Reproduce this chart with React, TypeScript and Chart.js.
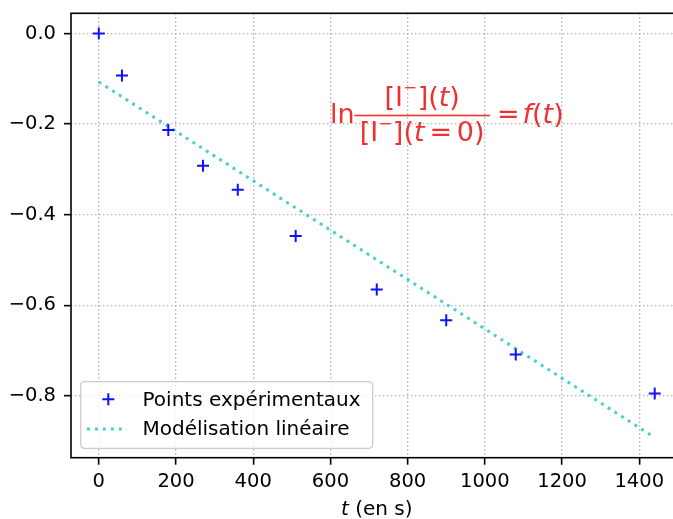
import React, { useEffect, useRef } from 'react';
import { Chart, registerables } from 'chart.js';

Chart.register(...registerables);

// ---- data ----
const times = [0, 60, 180, 270, 360, 510, 720, 900, 1080, 1440];
const lnRatio = [0, -0.093, -0.213, -0.292, -0.345, -0.447, -0.565, -0.633, -0.709, -0.795];
const modelTimes = [0, 1440];
const modelValues = [-0.107, -0.892];
const xTicks = [0, 200, 400, 600, 800, 1000, 1200, 1400];
const yTicks = [-0.8, -0.6, -0.4, -0.2, 0.0];
const xRange = [-72, 1512];
const yRange = [-0.9366, 0.0446];
const seriesLabels = ['Points expérimentaux', 'Modélisation linéaire'];
const xTitleItalic = 't';
const xTitleRest = ' (en s)';

const FONT = '"DejaVu Sans", sans-serif';
const POINT_COLOR = '#1010ff';
const LINE_COLOR = '#48d1cc';
const RED = '#f03030';
const LINE_DASH = [3, 4.95];
const TARGET = { left: 71, top: 13.3, right: 682.5, bottom: 457.7 };

type Run = { t: string; it?: boolean; s?: number; dy?: number; gap?: number };

function fontFor(r: Run, F: number) {
  return `${r.it ? 'italic ' : ''}${(r.s ?? 1) * F}px ${FONT}`;
}
function runsWidth(ctx: CanvasRenderingContext2D, runs: Run[], F: number) {
  let w = 0;
  for (const r of runs) {
    ctx.font = fontFor(r, F);
    w += (r.gap ?? 0) * F + ctx.measureText(r.t).width;
  }
  return w;
}
function drawRuns(ctx: CanvasRenderingContext2D, runs: Run[], x: number, y: number, F: number) {
  for (const r of runs) {
    ctx.font = fontFor(r, F);
    x += (r.gap ?? 0) * F;
    ctx.fillText(r.t, x, y + (r.dy ?? 0) * F);
    x += ctx.measureText(r.t).width;
  }
  return x;
}

const decorPlugin = {
  id: 'decor',
  afterDraw(chart: any) {
    const ctx: CanvasRenderingContext2D = chart.ctx;
    const a = chart.chartArea;
    ctx.save();
    // spines
    ctx.lineWidth = 1.6;
    ctx.strokeStyle = '#000';
    ctx.strokeRect(a.left, a.top, a.right - a.left, a.bottom - a.top);

    // formula annotation
    const F = 27;
    ctx.fillStyle = RED;
    ctx.textBaseline = 'alphabetic';
    ctx.textAlign = 'left';
    const sup: Run = { t: '−', s: 0.6, dy: -0.45, gap: 0.02 };
    const num: Run[] = [{ t: '[' }, { t: 'I' }, sup, { t: ']', gap: 0.02 }, { t: '(' }, { t: 't', it: true }, { t: ')' }];
    const den: Run[] = [{ t: '[' }, { t: 'I' }, sup, { t: ']', gap: 0.02 }, { t: '(' }, { t: 't', it: true }, { t: '=', gap: 0.18 }, { t: '0', gap: 0.18 }, { t: ')' }];
    const base = 123;
    drawRuns(ctx, [{ t: 'ln' }], 330, base, F);
    const barL = 354.3, barR = 490, barY = 115.5;
    ctx.fillRect(barL, barY - 0.8, barR - barL, 1.6);
    const cx = (barL + barR) / 2;
    const nw = runsWidth(ctx, num, F);
    drawRuns(ctx, num, cx - nw / 2, 105.5, F);
    const dw = runsWidth(ctx, den, F);
    drawRuns(ctx, den, cx - dw / 2, 141, F);
    drawRuns(ctx, [{ t: '=' }], 497, base, F);
    drawRuns(ctx, [{ t: 'f', it: true }, { t: '(' }, { t: 't', it: true }, { t: ')' }], 522.5, base, F);

    // x axis title
    ctx.fillStyle = '#000';
    const tf = 20;
    const tRuns: Run[] = [{ t: xTitleItalic, it: true }, { t: xTitleRest }];
    const tw = runsWidth(ctx, tRuns, tf);
    drawRuns(ctx, tRuns, (a.left + a.right) / 2 - tw / 2, 515, tf);

    // legend
    const lx = 80.7, ly = 381.7, lw = 292, lh = 66.6, rad = 4;
    ctx.beginPath();
    ctx.moveTo(lx + rad, ly);
    ctx.lineTo(lx + lw - rad, ly);
    ctx.quadraticCurveTo(lx + lw, ly, lx + lw, ly + rad);
    ctx.lineTo(lx + lw, ly + lh - rad);
    ctx.quadraticCurveTo(lx + lw, ly + lh, lx + lw - rad, ly + lh);
    ctx.lineTo(lx + rad, ly + lh);
    ctx.quadraticCurveTo(lx, ly + lh, lx, ly + lh - rad);
    ctx.lineTo(lx, ly + rad);
    ctx.quadraticCurveTo(lx, ly, lx + rad, ly);
    ctx.closePath();
    ctx.fillStyle = 'rgba(255,255,255,0.8)';
    ctx.fill();
    ctx.strokeStyle = '#cccccc';
    ctx.lineWidth = 1.3;
    ctx.stroke();

    const ds = chart.data.datasets;
    ctx.strokeStyle = ds[0].pointBorderColor;
    ctx.lineWidth = 2;
    ctx.setLineDash([]);
    ctx.beginPath();
    ctx.moveTo(108.3 - 6, 399.3);
    ctx.lineTo(108.3 + 6, 399.3);
    ctx.moveTo(108.3, 399.3 - 6);
    ctx.lineTo(108.3, 399.3 + 6);
    ctx.stroke();
    ctx.strokeStyle = ds[1].borderColor;
    ctx.lineWidth = 3;
    ctx.setLineDash(LINE_DASH);
    ctx.beginPath();
    ctx.moveTo(87, 429);
    ctx.lineTo(127, 429);
    ctx.stroke();
    ctx.setLineDash([]);
    ctx.fillStyle = '#000';
    ctx.font = `20px ${FONT}`;
    ctx.fillText(ds[0].label, 142.5, 405.5);
    ctx.fillText(ds[1].label, 142.5, 434.5);
    ctx.restore();
  },
};

function fmtY(v: number) {
  const s = Math.abs(v).toFixed(1);
  return v < 0 ? '−' + s : s;
}

export default function App() {
  const ref = useRef<HTMLCanvasElement>(null);
  useEffect(() => {
    document.body.style.margin = '0';
    const canvas = ref.current!;
    const padding = { top: 13.3, right: 17.5, left: 0, bottom: 0 };
    const gridOpts = {
      color: '#b0b0b0',
      lineWidth: 1.3,
      tickColor: '#000',
      tickWidth: 1.6,
      tickLength: 7,
      tickBorderDash: [],
    };
    const options: any = {
      animation: false,
      responsive: false,
      devicePixelRatio: 1,
      layout: { padding },
      plugins: { legend: { display: false }, tooltip: { enabled: false } },
      events: [],
      scales: {
        x: {
          type: 'linear',
          min: xRange[0],
          max: xRange[1],
          afterBuildTicks: (s: any) => {
            s.ticks = xTicks.map((v) => ({ value: v }));
          },
          afterFit: (s: any) => {
            s.height = 61.3;
            s.paddingLeft = 0;
            s.paddingRight = 0;
          },
          ticks: {
            font: { family: FONT, size: 19.5 },
            color: '#000',
            padding: 6,
            maxRotation: 0,
            autoSkip: false,
            callback: (v: any) => String(v),
          },
          grid: gridOpts,
          border: { display: false, dash: [1.4, 2.6] },
        },
        y: {
          type: 'linear',
          min: yRange[0],
          max: yRange[1],
          afterBuildTicks: (s: any) => {
            s.ticks = yTicks.map((v) => ({ value: v }));
          },
          afterFit: (s: any) => {
            s.width = 71;
            s.paddingTop = 0;
            s.paddingBottom = 0;
          },
          ticks: {
            font: { family: FONT, size: 19.5 },
            color: '#000',
            padding: 8,
            autoSkip: false,
            callback: (v: any) => fmtY(Number(v)),
          },
          grid: gridOpts,
          border: { display: false, dash: [1.4, 2.6] },
        },
      },
    };
    const chart = new Chart(canvas, {
      type: 'scatter',
      data: {
        datasets: [
          {
            label: seriesLabels[0],
            data: times.map((t, i) => ({ x: t, y: lnRatio[i] })),
            pointStyle: 'cross',
            pointRadius: 6,
            pointBorderWidth: 2,
            pointBorderColor: POINT_COLOR,
            pointBackgroundColor: POINT_COLOR,
            showLine: false,
            order: 1,
          } as any,
          {
            label: seriesLabels[1],
            data: modelTimes.map((t, i) => ({ x: t, y: modelValues[i] })),
            showLine: true,
            pointRadius: 0,
            borderColor: LINE_COLOR,
            borderWidth: 3,
            borderDash: LINE_DASH,
            borderCapStyle: 'butt',
            order: 2,
          } as any,
        ],
      },
      options,
      plugins: [decorPlugin],
    });
    for (let k = 0; k < 2; k++) {
      const a = chart.chartArea;
      padding.top += TARGET.top - a.top;
      padding.left += TARGET.left - a.left;
      padding.right += a.right - TARGET.right;
      padding.bottom += a.bottom - TARGET.bottom;
      chart.update();
    }
    return () => chart.destroy();
  }, []);
  return (
    <div style={{ position: 'absolute', left: 0, top: 0, width: 673, height: 519, overflow: 'hidden', background: '#fff' }}>
      <canvas ref={ref} width={700} height={519} style={{ width: 700, height: 519, display: 'block' }} />
    </div>
  );
}
